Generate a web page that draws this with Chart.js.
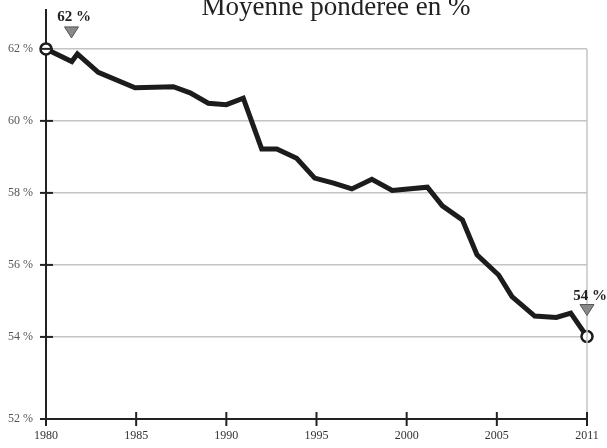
<!DOCTYPE html>
<html>
<head>
<meta charset="utf-8">
<script src="https://cdn.jsdelivr.net/npm/chart.js@4"></script>
<style>
  body { margin: 0; background: #fff; }
  #wrap { width: 607px; height: 448px; }
</style>
</head>
<body>
<div id="wrap"><canvas id="chart" width="607" height="448"></canvas></div>
<script>
// x positions on the axis (the source puts "2011" where 2010 would be)
const years = [1980, 1981.43, 1981.74, 1982.9, 1984.94, 1987.06, 1987.99, 1989.0, 1990.0, 1990.94,
  1991.96, 1992.8, 1993.9, 1994.9, 1995.95, 1996.96, 1998.07, 1999.2, 2001.15, 2001.98,
  2003.09, 2003.9, 2005.1, 2005.84, 2007.1, 2008.3, 2009.1, 2010];
const moyenne = [62.0, 61.65, 61.86, 61.35, 60.92, 60.95, 60.78, 60.49, 60.45, 60.63,
  59.22, 59.22, 58.96, 58.41, 58.27, 58.11, 58.38, 58.07, 58.16, 57.64,
  57.25, 56.28, 55.72, 55.12, 54.58, 54.54, 54.66, 54.01];

const xTicks = [1980, 1985, 1990, 1995, 2000, 2005, 2010];
const xTickLabels = ['1980', '1985', '1990', '1995', '2000', '2005', '2011'];
const yTicks = [52, 54, 56, 58, 60, 62];

// l'axe du bas (52 %) est un peu plus bas que la graduation régulière
const Y_MIN = 51.72;
const Y_MAX = 63.08;
const SERIF = '"Liberation Serif", "DejaVu Serif", serif';

const yPos = v => (v === yTicks[0] ? Y_MIN : v);

// titre + marqueurs 62 % / 54 % + petites graduations noires
const decorPlugin = {
  id: 'decor',
  afterDraw(chart) {
    const ctx = chart.ctx;
    const xs = chart.scales.x;
    const ys = chart.scales.y;
    const area = chart.chartArea;
    ctx.save();

    // bord droit gris
    ctx.strokeStyle = '#c4c4c4';
    ctx.lineWidth = 1.5;
    ctx.beginPath();
    ctx.moveTo(xs.getPixelForValue(2010), ys.getPixelForValue(62));
    ctx.lineTo(xs.getPixelForValue(2010), area.bottom);
    ctx.stroke();

    // graduations
    ctx.strokeStyle = '#222';
    ctx.lineWidth = 2;
    yTicks.forEach(v => {
      const py = ys.getPixelForValue(yPos(v));
      ctx.beginPath();
      ctx.moveTo(area.left - 6, py);
      ctx.lineTo(area.left + 7, py);
      ctx.stroke();
    });
    xTicks.forEach(v => {
      const px = xs.getPixelForValue(v);
      ctx.beginPath();
      ctx.moveTo(px, area.bottom - 7);
      ctx.lineTo(px, area.bottom + 7);
      ctx.stroke();
    });

    // titre
    ctx.fillStyle = '#222';
    ctx.font = '27px ' + SERIF;
    ctx.textAlign = 'center';
    ctx.textBaseline = 'alphabetic';
    ctx.fillText('Moyenne pondérée en %', 336, 15);

    // marqueurs
    const first = chart.getDatasetMeta(0).data[0];
    const last = chart.getDatasetMeta(0).data[moyenne.length - 1];
    const marks = [
      { pt: first, text: Math.round(moyenne[0]) + ' %', dx: 28, dy: -28, tx: 25.5, ty: -22 },
      { pt: last, text: Math.round(moyenne[moyenne.length - 1]) + ' %', dx: 3, dy: -37, tx: 0, ty: -32 }
    ];
    marks.forEach(m => {
      ctx.fillStyle = '#222';
      ctx.font = 'bold 15px ' + SERIF;
      ctx.fillText(m.text, m.pt.x + m.dx, m.pt.y + m.dy);
      const cx = m.pt.x + m.tx;
      const top = m.pt.y + m.ty;
      ctx.beginPath();
      ctx.moveTo(cx - 7, top);
      ctx.lineTo(cx + 7, top);
      ctx.lineTo(cx, top + 11);
      ctx.closePath();
      ctx.fillStyle = '#8a8a8a';
      ctx.fill();
      ctx.strokeStyle = '#555';
      ctx.lineWidth = 1;
      ctx.stroke();
    });
    ctx.restore();
  }
};

const pointRadii = moyenne.map((v, i) => (i === 0 || i === moyenne.length - 1) ? 5.5 : 0);

new Chart(document.getElementById('chart'), {
  type: 'line',
  data: {
    datasets: [{
      data: years.map((y, i) => ({ x: y, y: moyenne[i] })),
      borderColor: '#1c1c1c',
      borderWidth: 5,
      borderJoinStyle: 'miter',
      tension: 0,
      pointRadius: pointRadii,
      pointBackgroundColor: '#fff',
      pointBorderColor: '#1c1c1c',
      pointBorderWidth: 2.5,
      clip: false
    }]
  },
  options: {
    responsive: false,
    animation: false,
    layout: { padding: { top: 10, right: 20, left: 0, bottom: 0 } },
    plugins: {
      legend: { display: false },
      tooltip: { enabled: false }
    },
    scales: {
      x: {
        type: 'linear',
        min: 1980,
        max: 2010,
        afterBuildTicks: s => { s.ticks = xTicks.map(v => ({ value: v })); },
        afterFit: s => { s.height = 29; s.paddingLeft = 0; s.paddingRight = 0; },
        ticks: {
          callback: (v, i) => xTickLabels[i],
          color: '#333',
          font: { family: SERIF, size: 12 },
          padding: 10,
          maxRotation: 0
        },
        grid: { display: false, drawTicks: false },
        border: { color: '#222', width: 2 }
      },
      y: {
        min: Y_MIN,
        max: Y_MAX,
        afterBuildTicks: s => { s.ticks = yTicks.map(v => ({ value: yPos(v) })); },
        afterFit: s => { s.width = 46; s.paddingTop = 0; s.paddingBottom = 0; },
        ticks: {
          callback: (v, i) => yTicks[i] + ' %',
          color: '#555',
          font: { family: SERIF, size: 12 },
          padding: 13
        },
        grid: { color: '#c4c4c4', lineWidth: 1.5, drawTicks: false },
        border: { color: '#222', width: 2 }
      }
    }
  },
  plugins: [decorPlugin]
});
</script>
</body>
</html>
